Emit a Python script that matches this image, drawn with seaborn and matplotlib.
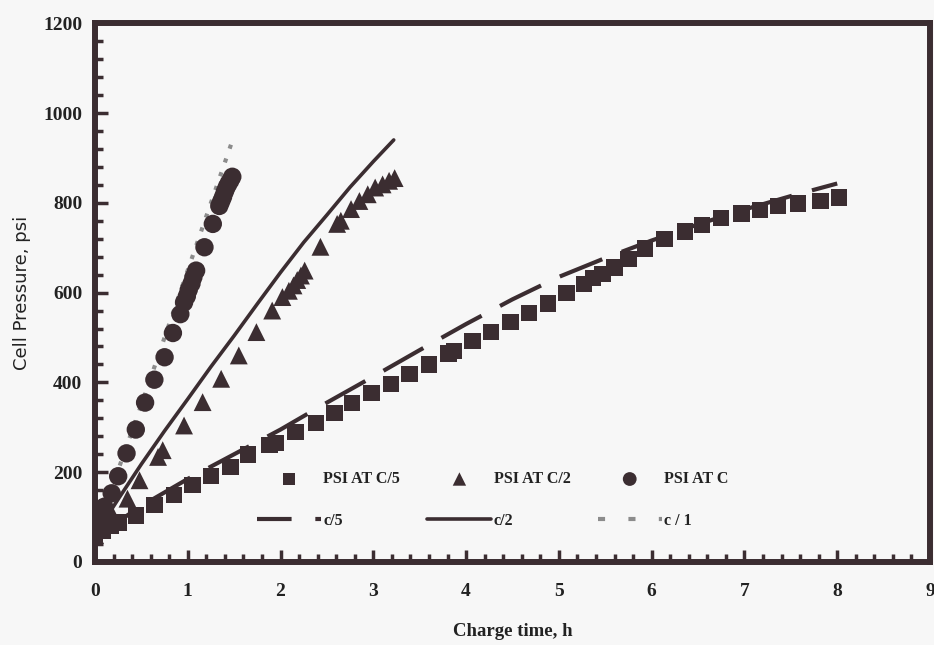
import matplotlib
matplotlib.use("Agg")
import matplotlib.pyplot as plt
import seaborn as sns
import pandas as pd
from matplotlib.ticker import MultipleLocator

# ---- data ----
c5_x = [0.0, 0.08, 0.17, 0.26, 0.44, 0.64, 0.85, 1.05, 1.25, 1.46, 1.65, 1.88, 1.95, 2.16, 2.38,
        2.58, 2.77, 2.98, 3.19, 3.39, 3.60, 3.81, 3.87, 4.07, 4.27, 4.48, 4.68, 4.88, 5.08, 5.27,
        5.37, 5.47, 5.60, 5.75, 5.93, 6.14, 6.36, 6.54, 6.75, 6.97, 7.17, 7.36, 7.58, 7.82, 8.02]
c5_y = [55, 70, 80, 88, 104, 127, 149, 171, 191, 212, 239, 260, 265, 290, 310,
        332, 354, 376, 397, 419, 440, 464, 470, 492, 512, 534, 555, 576, 599, 619,
        632, 641, 656, 675, 698, 719, 736, 751, 766, 776, 784, 793, 798, 804, 812]

c2_x = [0.0, 0.1, 0.19, 0.35, 0.48, 0.68, 0.73, 0.96, 1.16, 1.36, 1.55, 1.74, 1.91, 2.02, 2.09,
        2.14, 2.18, 2.22, 2.26, 2.43, 2.61, 2.65, 2.76, 2.85, 2.94, 3.02, 3.10, 3.17, 3.23]
c2_y = [60, 85, 104, 141, 182, 234, 249, 304, 356, 408, 460, 512, 560, 590, 604,
        616, 628, 638, 649, 702, 753, 760, 786, 804, 819, 834, 841, 849, 855]

c1_x = [0.0, 0.05, 0.10, 0.18, 0.25, 0.34, 0.44, 0.54, 0.64, 0.75, 0.84, 0.92, 0.96, 0.99,
        1.01, 1.04, 1.06, 1.09, 1.18, 1.27, 1.34, 1.36, 1.38, 1.40, 1.42, 1.44, 1.46, 1.48]
c1_y = [62, 95, 123, 153, 191, 242, 295, 355, 406, 456, 510, 552, 578, 592,
        606, 620, 634, 649, 701, 753, 793, 803, 813, 825, 835, 843, 850, 858]

fit5_x = [0, 0.5, 1, 1.5, 2, 2.5, 3, 3.5, 4, 4.5, 5, 5.5, 6, 6.5, 7, 7.5, 8]
fit5_y = [55, 125, 185, 240, 295, 355, 413, 472, 530, 585, 635, 677, 716, 752, 785, 815, 843]

fit2_x = [0, 0.25, 0.5, 0.75, 1.0, 1.25, 1.5, 1.75, 2.0, 2.25, 2.5, 2.75, 3.0, 3.22]
fit2_y = [60, 140, 218, 292, 363, 435, 504, 575, 645, 712, 773, 835, 892, 940]

fit1_x = [0, 0.25, 0.5, 0.75, 1.0, 1.25, 1.5]
fit1_y = [62, 205, 350, 500, 650, 800, 950]

x_ticks = [0, 1, 2, 3, 4, 5, 6, 7, 8, 9]
y_ticks = [0, 200, 400, 600, 800, 1000, 1200]

ink = "#3b2d31"
bg = "#f7f7f7"

sns.set_style("ticks")
plt.rcParams["font.family"] = ["Liberation Serif", "DejaVu Serif"]

fig = plt.figure(figsize=(9.34, 6.45), dpi=100, facecolor=bg)
ax = fig.add_axes([0.1017, 0.1287, 0.894, 0.8353])
ax.set_facecolor(bg)

# fitted curves
sns.lineplot(x=fit5_x, y=fit5_y, ax=ax, color=ink, lw=3.0, linestyle=(0, (11, 5)),
             label="c/5")
sns.lineplot(x=fit2_x, y=fit2_y, ax=ax, color=ink, lw=2.6, label="c/2")
sns.lineplot(x=fit1_x, y=fit1_y, ax=ax, color="#8c8c8c", lw=3.0, linestyle=(0, (1, 2.5)),
             label="c / 1")

# measured points
sns.scatterplot(x=c5_x, y=c5_y, ax=ax, marker="s", s=140, color=ink, edgecolor="none",
                label="PSI AT C/5", zorder=3)
sns.scatterplot(x=c2_x, y=c2_y, ax=ax, marker="^", s=165, color=ink, edgecolor="none",
                label="PSI AT C/2", zorder=3)
sns.scatterplot(x=c1_x, y=c1_y, ax=ax, marker="o", s=175, color=ink, edgecolor="none",
                label="PSI AT C", zorder=3)

ax.set_xlim(0, 9)
ax.set_ylim(0, 1200)
ax.set_xticks(x_ticks)
ax.set_yticks(y_ticks)
ax.xaxis.set_minor_locator(MultipleLocator(0.2))
ax.yaxis.set_minor_locator(MultipleLocator(40))
ax.tick_params(axis="both", which="major", direction="in", length=9, width=2.5, color=ink,
               labelsize=14, labelcolor="#222222")
ax.tick_params(axis="both", which="minor", direction="in", length=6, width=2.5, color=ink)
ax.tick_params(axis="x", which="major", pad=15)
ax.tick_params(axis="y", which="major", pad=9)
for lab in ax.get_xticklabels() + ax.get_yticklabels():
    lab.set_fontweight("bold")

for sp in ax.spines.values():
    sp.set_visible(True)
    sp.set_linewidth(4.3)
    sp.set_color(ink)

ax.set_xlabel("Charge time, h", fontsize=13.5, fontweight="bold", color="#222222", labelpad=17)
ax.set_ylabel("Cell Pressure, psi", fontsize=13, color="#222222", labelpad=9,
              family=["DejaVu Sans"])

handles, labels = ax.get_legend_handles_labels()
hmap = dict(zip(labels, handles))
order = ["PSI AT C/5", "c/5", "PSI AT C/2", "c/2", "PSI AT C", "c / 1"]
leg = ax.legend([hmap[k] for k in order], order, ncol=3, frameon=False,
                loc="lower left", bbox_to_anchor=(0.177, 0.035),
                prop={"weight": "bold", "size": 11.5},
                handlelength=4.0, handletextpad=0.15, columnspacing=1.7,
                labelspacing=1.6, markerscale=0.75)
for t in leg.get_texts():
    t.set_color("#222222")
for h, lab in zip(leg.legend_handles, order):
    if lab == "c/5":
        h.set_linestyle((0, (8.3, 5.7)))
    elif lab == "c / 1":
        h.set_linestyle((0, (1.7, 5.6)))

fig.savefig("out.png", dpi=100, facecolor=bg)
